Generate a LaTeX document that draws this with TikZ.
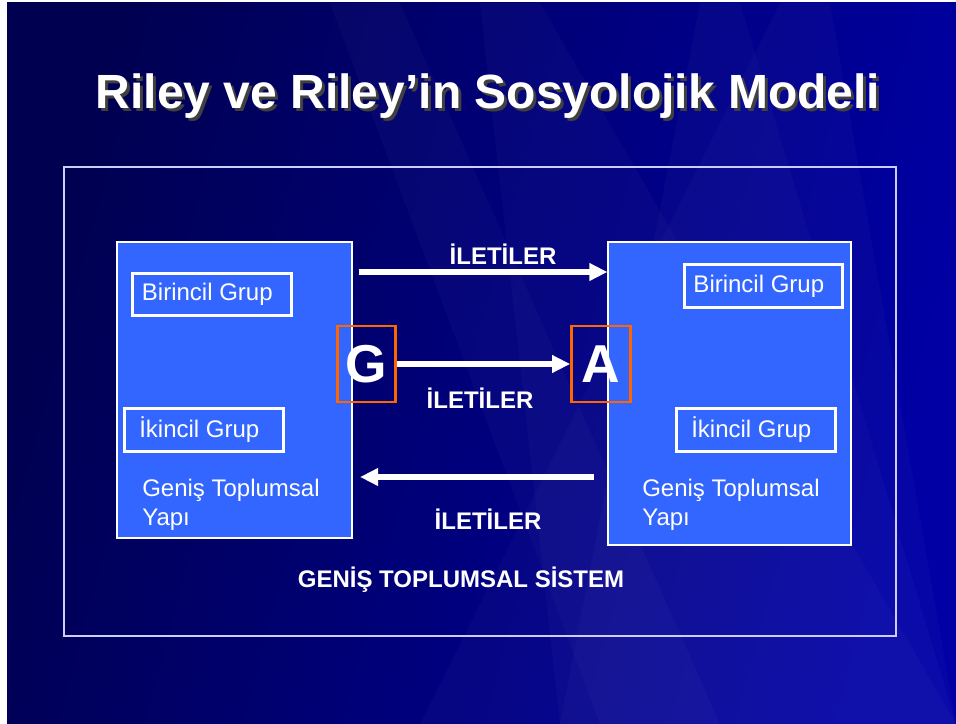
\documentclass[tikz,border=0pt]{standalone}
\usepackage{fontspec}
\setmainfont{Liberation Sans}
\usetikzlibrary{arrows.meta}
\definecolor{slidedark}{RGB}{0,0,80}
\definecolor{slidelight}{RGB}{0,0,165}
\definecolor{yapiblue}{RGB}{51,102,255}
\definecolor{kanalorange}{RGB}{255,102,0}
\tikzset{
  yapi/.style={draw=white, line width=0.8pt, fill=yapiblue, inner sep=0pt},
  grup/.style={draw=white, line width=2.4pt, text=white, inner sep=0pt,
    minimum width=119pt, minimum height=32pt, font=\fontsize{18}{22}\selectfont},
  kanal/.style={draw=kanalorange, line width=2.2pt, text=white, inner sep=0pt,
    minimum width=44pt, minimum height=57pt, font=\fontsize{40}{44}\selectfont\bfseries},
  etiket/.style={text=white, font=\fontsize{18}{22}\selectfont\bfseries},
  yapitext/.style={text=white, align=left, anchor=west, inner sep=0pt,
    font=\fontsize{18}{21.75}\selectfont},
  ileti/.style={draw=white, line width=4pt, -{Triangle[length=13.5pt,width=12.5pt]}}
}
\begin{document}
\begin{tikzpicture}[x=0.75pt,y=-0.75pt]
\useasboundingbox (0,0) rectangle (956,724);
% slide background
\fill[white] (0,0) rectangle (956,724);
\begin{scope}
\clip (7,3) rectangle (956,724);
\shade[left color=slidedark, right color=slidelight, shading angle=75] (7,3) rectangle (956,724);
\foreach \a/\b/\c/\d in {330/400/720/600, 480/540/956/560, 700/740/956/560, 780/830/956/420}
  \fill[white, fill opacity=0.025] (\a,3) -- (\b,3) -- (\c,724) -- (\d,724) -- cycle;
\end{scope}
% title
\node[text=black!75, font=\fontsize{36}{40}\selectfont\bfseries] (titleshadow) at (491,99) {Riley ve Riley’in Sosyolojik Modeli};
\node[text=white, font=\fontsize{36}{40}\selectfont\bfseries] (titletext) at (488,96) {Riley ve Riley’in Sosyolojik Modeli};
% system frame
\draw[white!80!blue, line width=1pt] (64,167) rectangle (896,636);
% social structures
\node[yapi, minimum width=176.25pt, minimum height=222pt] (leftyapi) at (234.5,390) {};
\node[yapi, minimum width=182.25pt, minimum height=227.25pt] (rightyapi) at (729.5,393.5) {};
\node[grup] (lbirincil) at (212,294.5) {\hspace*{-7pt}Birincil Grup};
\node[grup] (likincil) at (204,430) {\hspace*{-7pt}İkincil Grup};
\node[grup] (rbirincil) at (763.5,286) {\hspace*{-7pt}Birincil Grup};
\node[grup] (rikincil) at (756,430) {\hspace*{-7pt}İkincil Grup};
\node[yapitext] (lgenis) at (142,505) {Geniş Toplumsal\\Yapı};
\node[yapitext] (rgenis) at (642,505) {Geniş Toplumsal\\Yapı};
% communicator and receiver
\node[kanal] (gbox) at (366.5,364) {G};
\node[kanal] (abox) at (601,364) {A};
% messages
\coordinate (topstart) at (359,272);
\coordinate (bottomstart) at (594,477);
\coordinate (bottomend) at (360,477);
\draw[ileti] (topstart) -- (rightyapi.west |- topstart);
\draw[ileti] (gbox.east) -- (abox.west);
\draw[ileti] (bottomstart) -- (bottomend);
\node[etiket] (ileti1) at (503,254) {İLETİLER};
\node[etiket] (ileti2) at (480,398) {İLETİLER};
\node[etiket] (ileti3) at (488,519) {İLETİLER};
\node[etiket] (sistem) at (461,580) {GENİŞ TOPLUMSAL SİSTEM};
\end{tikzpicture}
\end{document}
